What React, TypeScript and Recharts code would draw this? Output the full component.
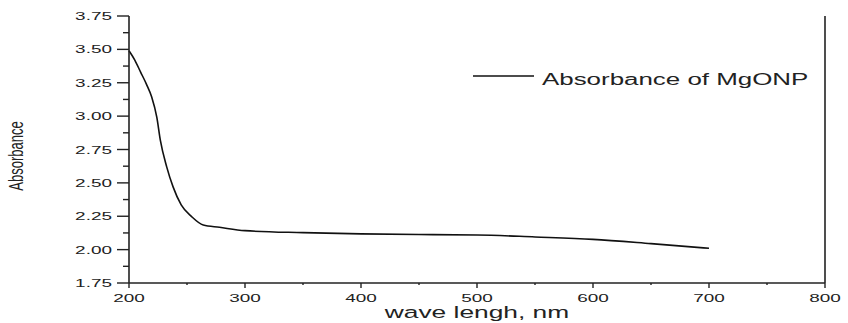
import React from 'react';
import {
  LineChart, Line, XAxis, YAxis, Legend, Label,
} from 'recharts';

// ── Data ──────────────────────────────────────────────────────────────────────

const wavelengths = [
  200, 205, 210, 215, 219.5, 224, 227, 232.5, 238, 245, 254, 264, 278,
  300, 350, 400, 450, 500, 550, 600, 650, 700,
];
const absorbance = [
  3.49, 3.42, 3.33, 3.24, 3.145, 2.99, 2.82, 2.62, 2.47, 2.335, 2.247, 2.184, 2.167,
  2.142, 2.127, 2.118, 2.113, 2.11, 2.095, 2.077, 2.045, 2.01,
];
const seriesName = 'Absorbance of MgONP';

const xTicks = [200, 250, 300, 350, 400, 450, 500, 550, 600, 650, 700, 750, 800];
const yTicks = [
  1.75, 1.875, 2.0, 2.125, 2.25, 2.375, 2.5, 2.625, 2.75,
  2.875, 3.0, 3.125, 3.25, 3.375, 3.5, 3.625, 3.75,
];

const data = wavelengths.map((w, i) => ({ w, a: absorbance[i] }));

// ── Helpers ───────────────────────────────────────────────────────────────────

const INK = '#222';
const FONT = '"Liberation Sans", Arial, sans-serif';

const isMajorX = (v: number) => v % 100 === 0;
const isMajorY = (v: number) => Math.abs(v * 4 - Math.round(v * 4)) < 1e-6;

// the source image is stretched horizontally, so text is widened too
function StretchText({ x, y, size, sx, anchor, rotate, children }: any) {
  return (
    <text
      transform={`translate(${x},${y}) scale(${sx},1)${rotate ? ` rotate(${rotate})` : ''}`}
      textAnchor={anchor}
      fontSize={size}
      fontFamily={FONT}
      fill={INK}
    >
      {children}
    </text>
  );
}

function BottomTick({ x, y, payload }: any) {
  const major = isMajorX(payload.value);
  return (
    <g>
      <line x1={x} x2={x} y1={y} y2={y + (major ? 5 : 2)} stroke={INK} strokeWidth={1.4} />
      {major && (
        <StretchText x={x} y={y + 19} size={11.5} sx={1.65} anchor="middle">
          {payload.value}
        </StretchText>
      )}
    </g>
  );
}

function TopTick({ x, y, payload }: any) {
  const major = isMajorX(payload.value);
  return <line x1={x} x2={x} y1={y} y2={y + (major ? 5 : 3)} stroke={INK} strokeWidth={1.4} />;
}

function LeftTick({ x, y, payload }: any) {
  const major = isMajorY(payload.value);
  return (
    <g>
      <line x1={x - (major ? 12 : 6)} x2={x} y1={y} y2={y} stroke={INK} strokeWidth={1.4} />
      {major && (
        <StretchText x={x - 17} y={y + 4} size={11.5} sx={1.65} anchor="end">
          {payload.value.toFixed(2)}
        </StretchText>
      )}
    </g>
  );
}

function RightTick({ x, y }: any) {
  return <line x1={x - 7} x2={x} y1={y} y2={y} stroke={INK} strokeWidth={1.4} />;
}

function XTitle({ viewBox }: any) {
  return (
    <StretchText x={viewBox.x + viewBox.width / 2} y={viewBox.y + 35} size={17} sx={1.55} anchor="middle">
      wave lengh, nm
    </StretchText>
  );
}

function YTitle() {
  return (
    <StretchText x={23} y={156} size={13} sx={1.6} anchor="middle" rotate={-90}>
      Absorbance
    </StretchText>
  );
}

function LegendBox({ payload }: any) {
  const item = payload?.[0];
  if (!item) return null;
  return (
    <svg width={350} height={30}>
      <line x1={3} x2={64} y1={12} y2={12} stroke={item.color} strokeWidth={1.6} />
      <StretchText x={72} y={21} size={16} sx={1.62} anchor="start">
        {item.value}
      </StretchText>
    </svg>
  );
}

// ── Chart ─────────────────────────────────────────────────────────────────────

export default function App() {
  const axisLine = { stroke: INK, strokeWidth: 1.6 };
  return (
    <div style={{ position: 'absolute', left: 0, top: 0, background: '#fff' }}>
      <LineChart width={848} height={323} data={data} margin={{ top: 16, right: 22, bottom: 0, left: 0 }}>
        <XAxis
          dataKey="w"
          type="number"
          domain={[200, 800]}
          ticks={xTicks}
          interval={0}
          height={40}
          tickSize={0}
          tickMargin={0}
          tickLine={false}
          axisLine={axisLine}
          tick={(p: any) => <BottomTick {...p} />}
        >
          <Label content={(p: any) => <XTitle {...p} />} />
        </XAxis>
        <XAxis
          xAxisId="top"
          orientation="top"
          type="number"
          domain={[200, 800]}
          ticks={xTicks}
          interval={0}
          height={0}
          tickSize={0}
          tickMargin={0}
          tickLine={false}
          axisLine={axisLine}
          tick={(p: any) => <TopTick {...p} />}
        />
        <YAxis
          type="number"
          domain={[1.75, 3.75]}
          ticks={yTicks}
          interval={0}
          width={129}
          tickSize={0}
          tickMargin={0}
          tickLine={false}
          axisLine={axisLine}
          tick={(p: any) => <LeftTick {...p} />}
        >
          <Label content={() => <YTitle />} />
        </YAxis>
        <YAxis
          yAxisId="right"
          orientation="right"
          type="number"
          domain={[1.75, 3.75]}
          ticks={yTicks}
          interval={0}
          width={1}
          tickSize={0}
          tickMargin={0}
          tickLine={false}
          axisLine={axisLine}
          tick={(p: any) => <RightTick {...p} />}
        />
        <Legend
          layout="horizontal"
          verticalAlign="middle"
          align="center"
          content={(p: any) => <LegendBox {...p} />}
          wrapperStyle={{ position: 'absolute', left: 470, top: 64, width: 350, height: 30 }}
        />
        <Line
          type="monotone"
          dataKey="a"
          name={seriesName}
          stroke="#111"
          strokeWidth={1.6}
          dot={false}
          isAnimationActive={false}
        />
      </LineChart>
    </div>
  );
}
